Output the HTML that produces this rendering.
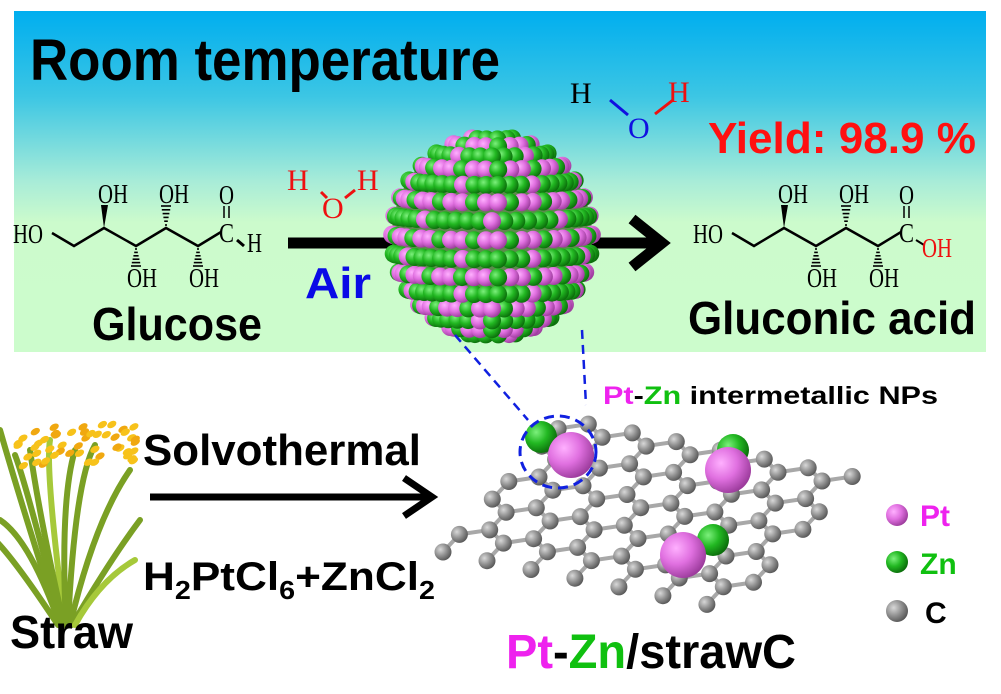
<!DOCTYPE html>
<html><head><meta charset="utf-8"><style>
html,body{margin:0;padding:0;background:#fff;}
svg{display:block;}
text{font-family:"Liberation Sans",Arial,sans-serif;}
text.s{font-family:"Liberation Serif",serif;}
</style></head><body>
<svg id="svg" width="1001" height="694" viewBox="0 0 1001 694" xmlns="http://www.w3.org/2000/svg">
<defs>
<linearGradient id="bg" x1="0" y1="0" x2="0" y2="1">
<stop offset="0" stop-color="#00aeef"/><stop offset="0.25" stop-color="#3cc6e4"/><stop offset="0.5" stop-color="#a8ecd8"/><stop offset="0.62" stop-color="#ccfbcc"/><stop offset="1" stop-color="#ccfccc"/>
</linearGradient>
<radialGradient id="gg" cx="0.35" cy="0.35" r="0.7"><stop offset="0" stop-color="#7cf07c"/><stop offset="0.5" stop-color="#22b822"/><stop offset="1" stop-color="#0a6a0a"/></radialGradient>
<radialGradient id="pg" cx="0.35" cy="0.35" r="0.7"><stop offset="0" stop-color="#ffb0ff"/><stop offset="0.5" stop-color="#e070e0"/><stop offset="1" stop-color="#9a3a9a"/></radialGradient>
<radialGradient id="cg" cx="0.35" cy="0.35" r="0.7"><stop offset="0" stop-color="#d8d8d8"/><stop offset="0.55" stop-color="#8e8e8e"/><stop offset="1" stop-color="#555"/></radialGradient>
</defs>
<rect x="14" y="11" width="972" height="341" fill="url(#bg)"/>
<text x="30" y="80" font-size="58" font-weight="bold" textLength="470" lengthAdjust="spacingAndGlyphs">Room temperature</text>
<text x="708" y="153" font-size="44" font-weight="bold" fill="#ff1010" textLength="268" lengthAdjust="spacingAndGlyphs">Yield: 98.9 %</text>
<text x="92" y="340" font-size="46" font-weight="bold" textLength="170" lengthAdjust="spacingAndGlyphs">Glucose</text>
<text x="688" y="334" font-size="46" font-weight="bold" textLength="288" lengthAdjust="spacingAndGlyphs">Gluconic acid</text>
<text x="305" y="298" font-size="44" font-weight="bold" fill="#0a0ae6" textLength="66" lengthAdjust="spacingAndGlyphs">Air</text>
<text x="570" y="103" class="s" font-size="30">H</text><text x="628" y="138" class="s" font-size="30" fill="#1010e0">O</text><text x="668" y="102" class="s" font-size="30" fill="#ee1010">H</text>
<text x="287" y="190" class="s" font-size="30" fill="#ee1010">H</text><text x="322" y="218" class="s" font-size="30" fill="#ee1010">O</text><text x="357" y="190" class="s" font-size="30" fill="#ee1010">H</text>
<line x1="610" y1="100" x2="628" y2="115" stroke="#1010e0" stroke-width="3"/><line x1="655" y1="114" x2="673" y2="100" stroke="#ee1010" stroke-width="3"/>
<line x1="321" y1="192" x2="327" y2="198" stroke="#ee1010" stroke-width="3"/><line x1="345" y1="198" x2="355" y2="190" stroke="#ee1010" stroke-width="3"/>
<g id="mol1"></g>
<line x1="288" y1="243" x2="660" y2="243" stroke="#000" stroke-width="11"/>
<polyline points="632,219 662,243 632,267" fill="none" stroke="#000" stroke-width="11"/>
<g id="sphere"></g>
<line x1="455" y1="335" x2="528" y2="420" stroke="#1020e0" stroke-width="2.5" stroke-dasharray="9,6"/>
<line x1="582" y1="330" x2="586" y2="405" stroke="#1020e0" stroke-width="2.5" stroke-dasharray="9,6"/>
<g id="lat"></g>
<ellipse cx="558" cy="452" rx="38" ry="36" fill="none" stroke="#1020e0" stroke-width="3" stroke-dasharray="10,6"/>
<text x="603" y="404" font-size="25" font-weight="bold" textLength="335" lengthAdjust="spacingAndGlyphs"><tspan fill="#ee22ee">Pt</tspan>-<tspan fill="#10c010">Zn</tspan> intermetallic NPs</text>
<g id="straw"></g>
<text x="143" y="465" font-size="44" font-weight="bold" textLength="278" lengthAdjust="spacingAndGlyphs">Solvothermal</text>
<line x1="150" y1="497" x2="430" y2="497" stroke="#000" stroke-width="7"/>
<polyline points="404,478 432,497 404,516" fill="none" stroke="#000" stroke-width="7"/>
<text x="143" y="590" font-size="40" font-weight="bold" textLength="292" lengthAdjust="spacingAndGlyphs">H<tspan font-size="26" dy="9">2</tspan><tspan dy="-9">PtCl</tspan><tspan font-size="26" dy="9">6</tspan><tspan dy="-9">+ZnCl</tspan><tspan font-size="26" dy="9">2</tspan></text>
<text x="10" y="648" font-size="46" font-weight="bold" textLength="123" lengthAdjust="spacingAndGlyphs">Straw</text>
<text x="506" y="668" font-size="48" font-weight="bold" textLength="290" lengthAdjust="spacingAndGlyphs"><tspan fill="#ee22ee">Pt</tspan>-<tspan fill="#10c010">Zn</tspan>/strawC</text>
<circle cx="897" cy="515" r="11" fill="url(#pg)"/><text x="920" y="526" font-size="30" font-weight="bold" fill="#ee22ee">Pt</text>
<circle cx="897" cy="562" r="11" fill="url(#gg)"/><text x="920" y="574" font-size="30" font-weight="bold" fill="#10c010">Zn</text>
<circle cx="897" cy="611" r="11" fill="url(#cg)"/><text x="925" y="623" font-size="30" font-weight="bold">C</text>
</svg>
<script>
const NS="http://www.w3.org/2000/svg";
function el(p,t,a){const e=document.createElementNS(NS,t);for(const k in a)e.setAttribute(k,a[k]);p.appendChild(e);return e;}
const m=document.getElementById('mol1');
function mol(dx,acid){
 const g=el(m,'g',{transform:`translate(${dx},0)`});
 const P=[[52,233],[74,246],[104,228],[136,246],[166,228],[198,246],[221,232]];
 el(g,'polyline',{points:P.map(p=>p.join(',')).join(' '),fill:'none',stroke:'#000','stroke-width':2.5});
 el(g,'polygon',{points:'104,228 101,205 108,205',fill:'#000'});
 function hash(x,y1,y2){for(let i=0;i<6;i++){const y=y1+(y2-y1)*i/5,w=1+i*0.8;el(g,'line',{x1:x-w,y1:y,x2:x+w,y2:y,stroke:'#000','stroke-width':1.6});}}
 hash(136,249,266);hash(166,225,206);hash(198,249,266);
 el(g,'line',{x1:224,y1:206,x2:224,y2:218,stroke:'#000','stroke-width':1.5});el(g,'line',{x1:229,y1:206,x2:229,y2:218,stroke:'#000','stroke-width':1.5});
 const t=(x,y,s,c)=>{const e=el(g,'text',{x,y,'font-size':27,'class':'s',fill:c||'#000',textLength:s.length*15,lengthAdjust:'spacingAndGlyphs'});e.textContent=s;};
 t(13,243,'HO');t(98,203,'OH');t(159,203,'OH');t(219,204,'O');t(219,242,'C');
 t(127,287,'OH');t(189,287,'OH');
 if(acid){el(g,'line',{x1:236,y1:240,x2:244,y2:245,stroke:'#000','stroke-width':2});t(242,257,'OH','#ee1010');}
 else{el(g,'line',{x1:237,y1:240,x2:244,y2:246,stroke:'#000','stroke-width':3});t(247,252,'H');}
}
mol(0,false);mol(680,true);
const s=document.getElementById('sphere');
const cx=492,cy=236,R=100;
el(s,'ellipse',{cx,cy,rx:R,ry:R+2,fill:'#5c8a4c'});
const dots=[];
let row=0;
for(let lat=-78;lat<=80;lat+=11,row++){
 const la=lat*Math.PI/180,cr=Math.cos(la),n=Math.max(6,Math.round(26*cr));
 const col=(row%2==1)?'p':'g';
 for(let i=0;i<n;i++){const lo=-Math.PI/2+Math.PI*(i+0.5)/n;
  const z=cr*Math.cos(lo);
  let c=col; if(col=='g'&&(i+row)%6==0)c='p'; if(col=='p'&&(i+row)%3==0)c='g';
  dots.push({x:cx+R*cr*Math.sin(lo),y:cy+R*Math.sin(la)+z*6,z,c});}
}
dots.sort((a,b)=>a.z-b.z);
for(const d of dots)el(s,'circle',{cx:d.x.toFixed(1),cy:d.y.toFixed(1),r:9,fill:d.c=='g'?'url(#gg)':'url(#pg)'});
const L=document.getElementById('lat');
const BL=[443,552],U=[292,58],V=[125,-134],W=11.5,H=7.6;
const at=[];const s3=Math.sqrt(3);
for(let i=-10;i<20;i++)for(let j=-2;j<12;j++){
 const bx=i*s3+j*s3/2,by=j*1.5;
 for(const q of [[0,0],[0,1]]){const x=bx+q[0],y=by+q[1];
  if(x>=-0.2&&x<=W+0.2&&y>=-0.2&&y<=H+0.2)at.push([x,y]);}}
const mp=p=>[BL[0]+p[0]/W*U[0]+p[1]/H*V[0],BL[1]+p[0]/W*U[1]+p[1]/H*V[1]];
for(let a=0;a<at.length;a++)for(let b=a+1;b<at.length;b++){
 const dx=at[a][0]-at[b][0],dy=at[a][1]-at[b][1];
 if(Math.abs(dx*dx+dy*dy-1)<0.05){const p=mp(at[a]),q=mp(at[b]);
  el(L,'line',{x1:p[0],y1:p[1],x2:q[0],y2:q[1],stroke:'#a8a8a8','stroke-width':4});}}
const sc=at.map(mp).sort((a,b)=>a[1]-b[1]);
for(const p of sc)el(L,'circle',{cx:p[0].toFixed(1),cy:p[1].toFixed(1),r:8.5,fill:'url(#cg)'});
[[541,437,16,'g'],[571,455,23,'p'],[733,450,16,'g'],[728,470,23,'p'],[713,540,16,'g'],[683,555,23,'p']].forEach(a=>{
 el(L,'circle',{cx:a[0],cy:a[1],r:a[2],fill:a[3]=='g'?'url(#gg)':'url(#pg)'});});
const st=document.getElementById('straw');
const blades=[[60,625,20,500,0,430],[62,625,25,480,15,455],[65,625,45,470,50,440],[68,625,75,480,95,445],[70,625,95,520,130,470],[60,625,30,540,0,520],[58,625,15,560,-5,540],[72,625,110,560,140,520],[66,625,60,500,75,450],[64,625,40,520,30,450],[75,625,100,580,135,560]];
for(const b of blades)el(st,'path',{d:`M${b[0]},${b[1]} Q${b[2]},${b[3]} ${b[4]},${b[5]}`,fill:'none',stroke:(b[0]%2?'#a6c93a':'#7aa024'),'stroke-width':6,'stroke-linecap':'round'});
let seed=3;const rnd=()=>{seed=(seed*9301+49297)%233280;return seed/233280;};
for(let i=0;i<50;i++){const x=15+rnd()*125,y=428+rnd()*40-(x-20)*0.05;
 el(st,'ellipse',{cx:x.toFixed(1),cy:y.toFixed(1),rx:5,ry:3.2,fill:i%3?'#f7c21a':'#f0a810',transform:`rotate(-30 ${x.toFixed(1)} ${y.toFixed(1)})`});}
</script>
</body></html>
